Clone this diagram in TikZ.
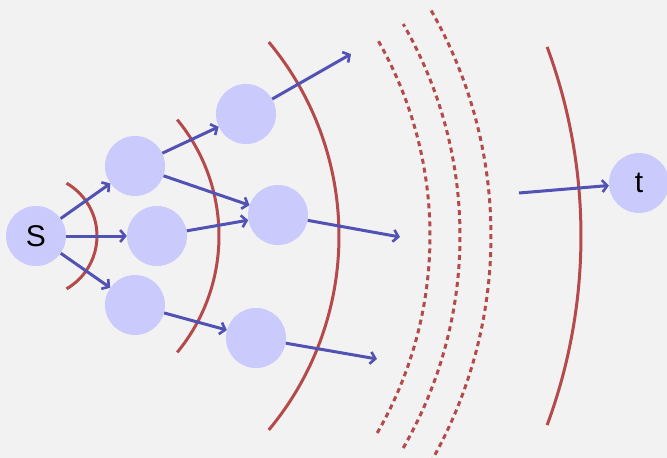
\documentclass[tikz,border=0pt]{standalone}
\usepackage{fontspec}
\setmainfont{Liberation Sans}
\usetikzlibrary{arrows.meta}
\definecolor{bgc}{HTML}{F2F2F2}
\definecolor{nodec}{HTML}{CACAFC}
\definecolor{arrc}{HTML}{5252B4}
\definecolor{arcc}{HTML}{B54A4A}
\begin{document}
\begin{tikzpicture}[x=1pt,y=1pt,
  vtx/.style={circle,fill=nodec,minimum size=60pt,inner sep=0pt,font=\fontsize{30}{30}\selectfont},
  edge/.style={draw=arrc,line width=3pt,-{Straight Barb[length=5pt,width=12pt,line width=2.6pt]}},
  cut/.style={draw=arcc,line width=3pt},
  dcut/.style={draw=arcc,line width=3pt,dash pattern=on 5pt off 4pt}]
\fill[bgc] (0,0) rectangle (667,-458);
\useasboundingbox (0,0) rectangle (667,-458);
\node[vtx] (S) at (36,-236) {S};
\node[vtx] (A) at (135,-166) {};
\node[vtx] (B) at (157,-236) {};
\node[vtx] (C) at (135,-305) {};
\node[vtx] (D) at (246,-114) {};
\node[vtx] (E) at (278,-215) {};
\node[vtx] (F) at (256,-338) {};
\node[vtx] (T) at (639,-183) {t};
\coordinate (d1) at (351,-54);
\coordinate (e1) at (400,-237);
\coordinate (f1) at (377,-359);
\coordinate (t0) at (519,-193);
% cuts
\draw[cut] (S.center) ++(-60:61pt) arc[start angle=-60,end angle=60,radius=61pt];
\draw[cut] (S.center) ++(-39.5:183pt) arc[start angle=-39.5,end angle=39.5,radius=183pt];
\draw[cut] (S.center) ++(-39.8:303pt) arc[start angle=-39.8,end angle=39.8,radius=303pt];
\draw[dcut] (S.center) ++(-30:394pt) arc[start angle=-30,end angle=30,radius=394pt];
\draw[dcut] (S.center) ++(-30:424pt) arc[start angle=-30,end angle=30,radius=424pt];
\draw[dcut] (S.center) ++(-31:455pt) arc[start angle=-31,end angle=30,radius=455pt];
\draw[cut] (S.center) ++(-20.3:545pt) arc[start angle=-20.3,end angle=20.3,radius=545pt];
% edges
\draw[edge] (S) -- (A);
\draw[edge] (S) -- (B);
\draw[edge] (S) -- (C);
\draw[edge] (A) -- (D);
\draw[edge] (A) -- (E);
\draw[edge] (B) -- (E);
\draw[edge] (C) -- (F);
\draw[edge] (D) -- (d1);
\draw[edge] (E) -- (e1);
\draw[edge] (F) -- (f1);
\draw[edge] (t0) -- (T);
\end{tikzpicture}
\end{document}
